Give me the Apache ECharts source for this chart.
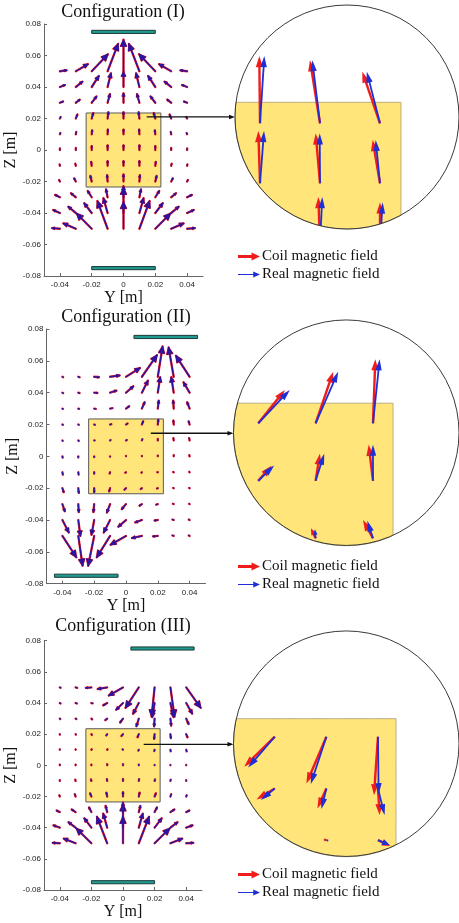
<!DOCTYPE html>
<html>
<head>
<meta charset="utf-8">
<script src="https://cdn.jsdelivr.net/npm/echarts@6/dist/echarts.min.js"></script>
<style>
  html, body { margin: 0; background: #fff; }
  #chart { width: 459px; height: 923px; }
</style>
</head>
<body>
<div id="chart"></div>
<script>
// ── grid of sample points (m) ──
const YS = [-0.04, -0.03, -0.02, -0.01, 0, 0.01, 0.02, 0.03, 0.04];
const ZS = [0.05, 0.04, 0.03, 0.02, 0.01, 0, -0.01, -0.02, -0.03, -0.04, -0.05];
const Y_TICKS = [-0.04, -0.02, 0, 0.02, 0.04];

// ── field vectors, mm (Y comp / Z comp) ──
const U_I = [
  [4.2, 7.6, 10.2, 6.6, 0, -6.6, -10.2, -7.6, -4.2],
  [3.2, 4.2, 4.5, 2.1, 0, -2.1, -4.5, -4.2, -3.2],
  [2, 2.5, 3, 1.5, 0, -1.5, -3, -2.5, -2],
  [0.5, 1, 1, 0.5, 0, -0.5, -1, -1, -0.5],
  [0.3, 0.3, 0.3, 0.2, 0, -0.2, -0.3, -0.3, -0.3],
  [0, 0, 0, 0, 0, 0, 0, 0, 0],
  [-0.2, -0.3, -0.3, 0, 0, 0, 0.3, 0.3, 0.2],
  [-0.5, -1, -0.8, -0.3, 0, 0.3, 0.8, 1, 0.5],
  [-3, -3, -2.5, -1, 0, 1, 2.5, 3, 3],
  [-4.2, -4.7, -4.7, -2.6, 0, 2.6, 4.7, 4.7, 4.2],
  [-4.9, -7.8, -9.5, -6.4, 0, 6.4, 9.5, 7.8, 4.9],
];
const V_I = [
  [0.6, 4.5, 10.8, 17.4, 20, 17.4, 10.8, 4.5, 0.6],
  [1.3, 3.4, 7, 8.7, 9.7, 8.7, 7, 3.4, 1.3],
  [0.8, 2, 4, 5.5, 6, 5.5, 4, 2, 0.8],
  [1, 2.5, 3.5, 4, 4, 4, 3.5, 2.5, 1],
  [0.8, 1.5, 2.5, 3, 3, 3, 2.5, 1.5, 0.8],
  [1, 1.3, 2.5, 3, 3, 3, 2.5, 1.3, 1],
  [0.8, 1.3, 2.5, 3, 3, 3, 2.5, 1.3, 0.8],
  [1, 2, 3.5, 4, 4.5, 4, 3.5, 2, 1],
  [1.5, 2.5, 4, 5, 7, 5, 4, 2.5, 1.5],
  [1.9, 4, 6.2, 9.4, 16, 9.4, 6.2, 4, 1.9],
  [0.4, 3.4, 9.7, 17.6, 17, 17.6, 9.7, 3.4, 0.4],
];
const U_II = [
  [0.5, 0.8, 3, 6, 8.8, 9.5, 3, -3.2, -8.6],
  [0.5, 0.8, 2, 4, 4.6, 3.8, 1.5, -1.5, -3.8],
  [0.3, 0.5, 1, 1.5, 2, 1.7, 0.6, -0.3, -1.5],
  [0.3, 0.3, 0.5, 0.8, 1, 0.8, 0.3, -0.2, -0.6],
  [0.2, 0.3, 0.3, 0.3, 0.5, 0.3, 0, -0.2, -0.3],
  [0.2, 0, 0, 0, 0, 0, 0, 0, -0.2],
  [0.3, 0.2, 0, -0.3, -0.5, -0.3, -0.3, -0.3, -0.2],
  [0.8, 0.3, 0, -0.6, -1, -0.8, -0.5, -0.3, -0.3],
  [1.5, 0.3, -0.5, -2, -2.7, -1.5, -1, -0.5, -0.3],
  [4, 1.3, -1.7, -4, -4.8, -4.2, -2, -0.8, -0.5],
  [8.8, 2.7, -3.8, -8.4, -9.7, -6.3, -3, -0.8, -0.5],
];
const V_II = [
  [-0.3, -0.3, -0.3, 0.8, 5.5, 13.6, 19, 18.4, 13.2],
  [-0.3, -0.3, -0.2, 1.3, 4, 7.6, 9.7, 9.7, 6.5],
  [-0.2, -0.2, -0.2, 0.3, 1.5, 4, 5, 5, 4],
  [-0.2, -0.2, -0.2, 0.2, 0.6, 2, 3, 2.5, 2],
  [-0.3, -0.3, 0, 0.3, 0.3, 0.8, 1, 1.5, 1.5],
  [-0.8, -0.8, -0.5, -0.3, 0, 0.3, 0.5, 0.8, 0.8],
  [-1.5, -1.5, -1, -0.8, -0.3, -0.3, 0, 0.2, 0.3],
  [-2.5, -3, -2.5, -2, -1, -0.5, -0.2, 0.2, 0.2],
  [-4.5, -5, -5, -5.3, -3.2, -1, -0.3, 0.2, 0.2],
  [-7.8, -9.9, -9.3, -7.8, -4.2, -1.5, -0.3, 0.3, 0.3],
  [-13.4, -18.7, -18.7, -13.4, -5.5, -1.3, -0.3, 0.3, 0.3],
];
const U_III = [
  [0.5, 1, -3.5, -6, -9, -8.4, -1.9, 2.6, 9.2],
  [0.5, 0.8, 0.8, -2.5, -4.3, -3.6, -1.5, 2, 3.8],
  [0.3, 0.5, 0.5, -1.2, -1.8, -1.5, -0.3, 0.5, 1.5],
  [0, 0.2, 0.3, -0.6, -1, -0.8, -0.3, 0.3, 0.8],
  [0, 0, 0.2, 0.2, -0.3, -0.3, -0.2, 0.2, 0.3],
  [0, 0, 0, 0, 0, 0, 0, 0, 0],
  [0, -0.2, -0.3, -0.2, 0, 0.2, 0.3, 0.2, 0],
  [-0.3, -0.5, -0.8, -0.5, 0, 0.5, 0.8, 0.5, 0.3],
  [-2, -2.5, -1.5, -1, 0, 1, 1.5, 2.5, 2],
  [-4, -4.5, -4.5, -2.5, 0, 2.5, 4.5, 4.5, 4],
  [-4.5, -7.5, -9.5, -6.5, 0, 6.5, 9.5, 7.5, 4.5],
];
const V_III = [
  [-0.2, -0.3, -0.3, -1, -5.2, -13.1, -18.7, -18.7, -13.1],
  [-0.3, -0.3, -0.2, -1.5, -4.3, -6.9, -9, -9, -6.8],
  [-0.3, -0.3, -0.5, -1, -2.5, -4.9, -5, -4.5, -3.5],
  [-0.3, -0.3, -0.5, -0.8, -1.2, -2, -3, -2.5, -2],
  [0.3, 0.3, 0.3, 0.3, 0.3, -0.5, -0.8, -1, -1],
  [0.5, 0.5, 0.5, 0.8, 0.8, 0.5, 0.3, 0, 0],
  [0.5, 0.8, 1, 1.2, 1.3, 1.2, 1, 0.8, 0.5],
  [0.8, 1.5, 2, 2.5, 2.8, 2.5, 2, 1.5, 0.8],
  [1, 1.7, 3, 4, 6, 4, 3, 1.7, 1],
  [1.5, 3.5, 6, 9, 15, 9, 6, 3.5, 1.5],
  [0.3, 3, 9.5, 17, 17, 17, 9.5, 3, 0.3],
];

// ── coils: [Y from, Y to, Z] (m) and the sample cube ──
const COILS_I = [[-0.02, 0.02, 0.075], [-0.02, 0.02, -0.075]];
const COILS_II = [[0.005, 0.045, 0.075], [-0.045, -0.005, -0.075]];
const COILS_III = [[0.005, 0.045, 0.075], [-0.02, 0.02, -0.075]];
const BOX = [-0.0235, 0.0235, -0.0235, 0.0235];

// ── magnified views: window centre / radius (m), points, vectors (mm at zoom scale) ──
const ZOOM_I = { c: [0.0145, 0.02105], r: 0.01867 };
const ZOOM_II = { c: [0.01534, 0.01837], r: 0.01965 };
const ZOOM_III = { c: [0.01385, 0.01865], r: 0.02186 };
const ZPTS_I = [[0, 0.02], [0.01, 0.02], [0.02, 0.02], [0, 0.01], [0.01, 0.01], [0.02, 0.01], [0, 0], [0.01, 0], [0.02, 0]];
const ZRED_I = [[-0.12, 11.2], [-1.67, 10.5], [-2.95, 8.6], [-0.28, 8.7], [-0.72, 8.3], [-1.22, 7.2], [-0.3, 7.7], [-0.28, 7.7], [0, 6.8]];
const ZBLUE_I = [[0.72, 11.2], [-1.28, 10.5], [-2.2, 8.6], [0.67, 8.7], [-0.05, 8.3], [-0.72, 7.2], [0.4, 7.7], [0.38, 7.7], [0.45, 6.8]];
const ZPTS_II = [[0, 0.02], [0.01, 0.02], [0.02, 0.02], [0, 0.01], [0.01, 0.01], [0.02, 0.01], [0.01, 0], [0.02, 0]];
const ZRED_II = [[4.64, 5.8], [3.07, 8.99], [0.41, 11.13], [2.32, 2.61], [0.75, 4.7], [-0.75, 6.26], [-0.81, 1.74], [-1.74, 3.19]];
const ZBLUE_II = [[5.5, 5.8], [3.94, 8.99], [1.16, 11.13], [2.78, 2.67], [1.51, 4.7], [0, 6.26], [-0.12, 1.57], [-0.99, 3.07]];
const ZPTS_III = [[0, 0.02], [0.01, 0.02], [0.02, 0.02], [0, 0.01], [0.01, 0.01], [0.02, 0.01], [0.01, 0], [0.02, 0]];
const ZRED_III = [[-5.93, -5.8], [-3.87, -9.03], [-0.77, -11.3], [-3.55, -2.13], [-1.74, -3.87], [0.32, -5.16], [-0.6, 0.15], [2.39, -1.16]];
const ZBLUE_III = [[-5.16, -5.93], [-3.03, -9.15], [0.13, -11.1], [-2.7, -2.26], [-0.97, -4], [1.29, -5.16], [0.4, -0.1], [2.26, -0.97]];
const LEADERS = [[0.0146, 0.021], [0.0156, 0.0145], [0.0131, 0.0135]];
const TITLES = ["Configuration (I)", "Configuration (II)", "Configuration (III)"];

// ── layout (px) ──
const MAIN = [
  { left: 44, top: 24, width: 159, height: 252, nameGap: 22, titleX: 123, titleY: 3, legendTop: 249 },
  { left: 46.5, top: 329, width: 159, height: 254.7, nameGap: 26, titleX: 126, titleY: 308, legendTop: 559 },
  { left: 44, top: 640.7, width: 158, height: 249.3, nameGap: 24, titleX: 123, titleY: 617, legendTop: 867 },
];
const CIRCLES = [{ cx: 347, cy: 117, r: 112 }, { cx: 346.5, cy: 432.7, r: 113 }, { cx: 346.5, cy: 743.7, r: 113 }];

const SERIF = "'Liberation Serif', 'DejaVu Serif', serif";
const SANS = "'Liberation Sans', Arial, sans-serif";
const RED = "#f01c1c", BLUE = "#2a14a0", ZBLUE = "#1f2fd6", YELLOW = "#ffe57a";
const RED_ICON = "path://M0,3.3H16V0.3L26,5L16,9.7V6.7H0Z";
const BLUE_ICON = "path://M0,4.3H18V1.5L26,5L18,8.5V5.7H0Z";

const fmtTick = (v) => (Math.abs(v) < 1e-9 ? "0" : v.toFixed(2));

function gridData(U, V) {
  const out = [];
  ZS.forEach((z, i) => YS.forEach((y, j) => out.push([y, z, U[i][j], V[i][j]])));
  return out;
}
const zipZoom = (pts, vec) => pts.map((p, k) => [p[0], p[1], vec[k][0], vec[k][1]]);

// ── render helpers ──
function quiverItem(color, lw) {
  return (params, api) => {
    const y = api.value(0), z = api.value(1);
    const p0 = api.coord([y, z]);
    const p1 = api.coord([y + api.value(2) / 1000, z + api.value(3) / 1000]);
    const dx = p1[0] - p0[0], dy = p1[1] - p0[1], len = Math.hypot(dx, dy);
    const end = len < 0.4 ? [p0[0], p0[1] - 0.4] : p1;
    const children = [{
      type: "line", shape: { x1: p0[0], y1: p0[1], x2: end[0], y2: end[1] },
      style: { stroke: color, lineWidth: lw, lineCap: "round" },
    }];
    if (len > 2.5) {
      const h = Math.min(len * 0.3, 6.5), w = h * 0.45, ux = dx / len, uy = dy / len;
      const bx = p1[0] - ux * h, by = p1[1] - uy * h;
      children.push({
        type: "polygon",
        shape: { points: [[bx - uy * w, by + ux * w], p1, [bx + uy * w, by - ux * w]] },
        style: { stroke: color, fill: color, lineWidth: lw * 0.7, lineJoin: "round" },
      });
    }
    return { type: "group", children };
  };
}

function clipToCircle(p0, p1, c, r) {
  const fx = p0[0] - c[0], fy = p0[1] - c[1];
  if (fx * fx + fy * fy <= r * r) return p0;
  const dx = p1[0] - p0[0], dy = p1[1] - p0[1];
  const a = dx * dx + dy * dy, b = 2 * (fx * dx + fy * dy), cc = fx * fx + fy * fy - r * r;
  const disc = b * b - 4 * a * cc;
  if (disc < 0) return null;
  const t = (-b - Math.sqrt(disc)) / (2 * a);
  if (t < 0 || t > 1) return null;
  return [p0[0] + t * dx, p0[1] + t * dy];
}

function zoomFrame(api, zoom) {
  const c = api.coord(zoom.c);
  const r = api.coord([zoom.c[0] + zoom.r, zoom.c[1]])[0] - c[0];
  return { c, r };
}

function zoomArrowItem(zoom, color, lw, head, half) {
  return (params, api) => {
    const { c, r } = zoomFrame(api, zoom);
    const y = api.value(0), z = api.value(1);
    const p1 = api.coord([y + api.value(2) / 1000, z + api.value(3) / 1000]);
    const p0 = clipToCircle(api.coord([y, z]), p1, c, r);
    if (!p0) return null;
    const dx = p1[0] - p0[0], dy = p1[1] - p0[1], len = Math.hypot(dx, dy);
    if (len < 0.5) return null;
    const ux = dx / len, uy = dy / len;
    const h = Math.min(head, len * 0.6), w = Math.min(half, h * 0.4);
    const bx = p1[0] - ux * h, by = p1[1] - uy * h;
    return {
      type: "group",
      children: [
        { type: "line", shape: { x1: p0[0], y1: p0[1], x2: bx + ux * 1, y2: by + uy * 1 }, style: { stroke: color, lineWidth: lw } },
        { type: "polygon", shape: { points: [[bx - uy * w, by + ux * w], p1, [bx + uy * w, by - ux * w]] }, style: { fill: color } },
      ],
    };
  };
}

function boxItem(params, api) {
  const a = api.coord([BOX[0], BOX[3]]), b = api.coord([BOX[1], BOX[2]]);
  return {
    type: "rect", shape: { x: a[0], y: a[1], width: b[0] - a[0], height: b[1] - a[1] },
    style: { fill: YELLOW, stroke: "#5a5a5a", lineWidth: 1 },
  };
}

function coilItem(params, api) {
  const a = api.coord([api.value(0), api.value(2) + 0.001]);
  const b = api.coord([api.value(1), api.value(2) - 0.001]);
  return {
    type: "rect", shape: { x: a[0], y: a[1], width: b[0] - a[0], height: b[1] - a[1] },
    style: { fill: "#1f9a8e", stroke: "#1c3a38", lineWidth: 1 },
  };
}

function zoomBoxItem(zoom) {
  return (params, api) => {
    const pts = [];
    for (let k = 0; k < 240; k++) {
      const t = (k / 240) * Math.PI * 2;
      const y = Math.min(Math.max(zoom.c[0] + zoom.r * Math.cos(t), BOX[0]), BOX[1]);
      const z = Math.min(Math.max(zoom.c[1] + zoom.r * Math.sin(t), BOX[2]), BOX[3]);
      pts.push(api.coord([y, z]));
    }
    return { type: "polygon", shape: { points: pts }, style: { fill: YELLOW, stroke: "#a89c72", lineWidth: 0.8 } };
  };
}

function circleItem(zoom) {
  return (params, api) => {
    const { c, r } = zoomFrame(api, zoom);
    return { type: "circle", shape: { cx: c[0], cy: c[1], r }, style: { fill: null, stroke: "#3a3a3a", lineWidth: 1 } };
  };
}

function leaderItem(circle) {
  return (params, api) => {
    const p0 = api.coord([api.value(0), api.value(1)]);
    const x1 = circle.cx - circle.r;
    return {
      type: "group",
      children: [
        { type: "line", shape: { x1: p0[0], y1: p0[1], x2: x1 - 4, y2: p0[1] }, style: { stroke: "#111", lineWidth: 1.3 } },
        { type: "polygon", shape: { points: [[x1 - 6, p0[1] - 2.3], [x1, p0[1]], [x1 - 6, p0[1] + 2.3]] }, style: { fill: "#111" } },
      ],
    };
  };
}

// ── build option ──
const panels = [
  { U: U_I, V: V_I, coils: COILS_I, zoom: ZOOM_I, zp: ZPTS_I, zr: ZRED_I, zb: ZBLUE_I },
  { U: U_II, V: V_II, coils: COILS_II, zoom: ZOOM_II, zp: ZPTS_II, zr: ZRED_II, zb: ZBLUE_II },
  { U: U_III, V: V_III, coils: COILS_III, zoom: ZOOM_III, zp: ZPTS_III, zr: ZRED_III, zb: ZBLUE_III },
];

const grid = [], xAxis = [], yAxis = [], series = [], title = [], legend = [];
panels.forEach((p, i) => {
  const m = MAIN[i], cir = CIRCLES[i];
  const gi = i * 2, zi = i * 2 + 1;
  grid.push({ left: m.left, top: m.top, width: m.width, height: m.height });
  grid.push({ left: cir.cx - cir.r, top: cir.cy - cir.r, width: cir.r * 2, height: cir.r * 2 });

  xAxis.push({
    gridIndex: gi, type: "value", min: -0.05, max: 0.05,
    axisLine: { show: true, onZero: false, lineStyle: { color: "#666", width: 1 } },
    axisTick: { show: true, inside: true, length: 3, customValues: Y_TICKS, lineStyle: { color: "#666" } },
    axisLabel: { customValues: Y_TICKS, formatter: fmtTick, fontFamily: SANS, fontSize: 8, color: "#222", margin: 5 },
    splitLine: { show: false },
    name: "Y [m]", nameLocation: "middle", nameGap: 14,
    nameTextStyle: { fontFamily: SERIF, fontSize: 16, color: "#111", verticalAlign: "top" },
  });
  xAxis.push({ gridIndex: zi, type: "value", show: false, min: p.zoom.c[0] - p.zoom.r, max: p.zoom.c[0] + p.zoom.r });

  yAxis.push({
    gridIndex: gi, type: "value", min: -0.08, max: 0.08, interval: 0.02,
    axisLine: { show: true, onZero: false, lineStyle: { color: "#666", width: 1 } },
    axisTick: { show: true, inside: true, length: 3, lineStyle: { color: "#666" } },
    axisLabel: { formatter: fmtTick, fontFamily: SANS, fontSize: 8, color: "#222", margin: 3 },
    splitLine: { show: false },
    name: "Z [m]", nameLocation: "middle", nameGap: m.nameGap, nameRotate: 90,
    nameTextStyle: { fontFamily: SERIF, fontSize: 16, color: "#111" },
  });
  yAxis.push({ gridIndex: zi, type: "value", show: false, min: p.zoom.c[1] - p.zoom.r, max: p.zoom.c[1] + p.zoom.r });

  title.push({
    text: TITLES[i], left: m.titleX, top: m.titleY, textAlign: "center", padding: 0,
    textStyle: { fontFamily: SERIF, fontSize: 18, fontWeight: "normal", color: "#111" },
  });

  legend.push({
    left: 238, top: m.legendTop, padding: 0, orient: "vertical", itemGap: 3, itemWidth: 22, itemHeight: 8,
    selectedMode: false,
    textStyle: { fontFamily: SERIF, fontSize: 15, color: "#111", padding: [0, 0, 0, -3] },
    data: [{ name: "Coil magnetic field", icon: RED_ICON }, { name: "Real magnetic field", icon: BLUE_ICON }],
  });

  const onMain = { type: "custom", coordinateSystem: "cartesian2d", xAxisIndex: gi, yAxisIndex: gi, silent: true, clip: false };
  const onZoom = { type: "custom", coordinateSystem: "cartesian2d", xAxisIndex: zi, yAxisIndex: zi, silent: true, clip: false };
  const vecs = gridData(p.U, p.V);

  series.push({ ...onMain, data: [[0, 0]], renderItem: boxItem });
  series.push({ ...onMain, data: p.coils, renderItem: coilItem });
  series.push({ ...onMain, name: "Coil magnetic field", data: vecs, itemStyle: { color: RED }, renderItem: quiverItem(RED, 2.3) });
  series.push({ ...onMain, name: "Real magnetic field", data: vecs, itemStyle: { color: ZBLUE }, renderItem: quiverItem(BLUE, 1.4) });
  series.push({ ...onMain, data: [LEADERS[i]], renderItem: leaderItem(cir) });

  series.push({ ...onZoom, data: [[0, 0]], renderItem: zoomBoxItem(p.zoom) });
  series.push({ ...onZoom, name: "Coil magnetic field", data: zipZoom(p.zp, p.zr), itemStyle: { color: RED }, renderItem: zoomArrowItem(p.zoom, RED, 2.4, 11, 3.6) });
  series.push({ ...onZoom, name: "Real magnetic field", data: zipZoom(p.zp, p.zb), itemStyle: { color: ZBLUE }, renderItem: zoomArrowItem(p.zoom, ZBLUE, 1.8, 11, 3.2) });
  series.push({ ...onZoom, data: [[0, 0]], renderItem: circleItem(p.zoom) });
});

const chart = echarts.init(document.getElementById("chart"), null, { renderer: "canvas" });
chart.setOption({ animation: false, backgroundColor: "#fff", title, legend, grid, xAxis, yAxis, series });
</script>
</body>
</html>
